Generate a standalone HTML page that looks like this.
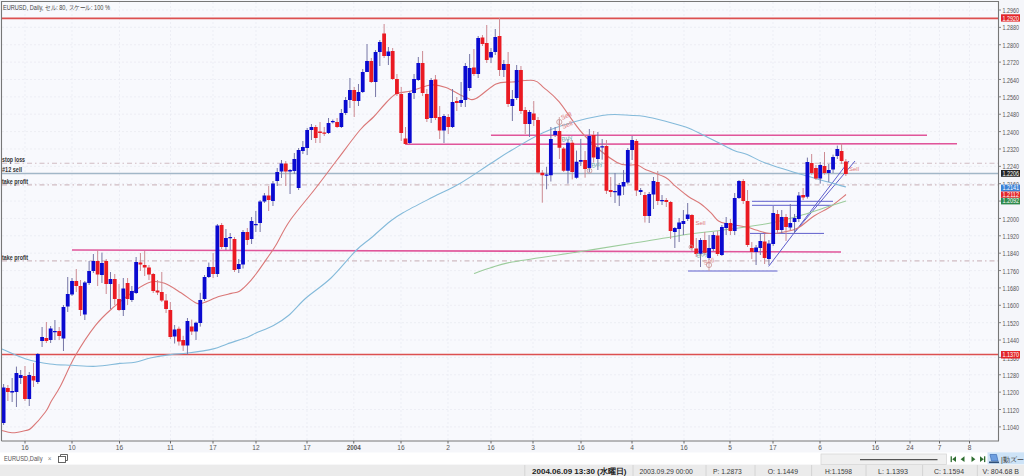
<!DOCTYPE html>
<html><head><meta charset="utf-8">
<style>
html,body{margin:0;padding:0;width:1024px;height:476px;overflow:hidden;background:#f5f6fa;}
svg{position:absolute;left:0;top:0;}
text{font-family:"Liberation Sans",sans-serif;}
</style></head><body>
<svg width="1024" height="476" viewBox="0 0 1024 476">
<rect x="0" y="0" width="1024" height="476" fill="#f5f6fa"/>
<rect x="1.5" y="1.5" width="997" height="439.5" fill="#f8f9fd"/>
<g stroke="#e8eaf0" stroke-width="0.7" stroke-dasharray="2 2"><line x1="2" y1="10" x2="998" y2="10"/><line x1="2" y1="27.37" x2="998" y2="27.37"/><line x1="2" y1="44.74" x2="998" y2="44.74"/><line x1="2" y1="62.11" x2="998" y2="62.11"/><line x1="2" y1="79.48" x2="998" y2="79.48"/><line x1="2" y1="96.85" x2="998" y2="96.85"/><line x1="2" y1="114.22" x2="998" y2="114.22"/><line x1="2" y1="131.59" x2="998" y2="131.59"/><line x1="2" y1="148.96" x2="998" y2="148.96"/><line x1="2" y1="166.33" x2="998" y2="166.33"/><line x1="2" y1="183.7" x2="998" y2="183.7"/><line x1="2" y1="201.07" x2="998" y2="201.07"/><line x1="2" y1="218.44" x2="998" y2="218.44"/><line x1="2" y1="235.81" x2="998" y2="235.81"/><line x1="2" y1="253.18" x2="998" y2="253.18"/><line x1="2" y1="270.55" x2="998" y2="270.55"/><line x1="2" y1="287.92" x2="998" y2="287.92"/><line x1="2" y1="305.29" x2="998" y2="305.29"/><line x1="2" y1="322.66" x2="998" y2="322.66"/><line x1="2" y1="340.03" x2="998" y2="340.03"/><line x1="2" y1="357.4" x2="998" y2="357.4"/><line x1="2" y1="374.77" x2="998" y2="374.77"/><line x1="2" y1="392.14" x2="998" y2="392.14"/><line x1="2" y1="409.51" x2="998" y2="409.51"/><line x1="2" y1="426.88" x2="998" y2="426.88"/><line x1="25" y1="2" x2="25" y2="441"/><line x1="72" y1="2" x2="72" y2="441"/><line x1="119.5" y1="2" x2="119.5" y2="441"/><line x1="170.5" y1="2" x2="170.5" y2="441"/><line x1="213" y1="2" x2="213" y2="441"/><line x1="256" y1="2" x2="256" y2="441"/><line x1="307" y1="2" x2="307" y2="441"/><line x1="353.75" y1="2" x2="353.75" y2="441"/><line x1="401" y1="2" x2="401" y2="441"/><line x1="448" y1="2" x2="448" y2="441"/><line x1="491" y1="2" x2="491" y2="441"/><line x1="533" y1="2" x2="533" y2="441"/><line x1="581" y1="2" x2="581" y2="441"/><line x1="632" y1="2" x2="632" y2="441"/><line x1="684" y1="2" x2="684" y2="441"/><line x1="730" y1="2" x2="730" y2="441"/><line x1="773" y1="2" x2="773" y2="441"/><line x1="820" y1="2" x2="820" y2="441"/><line x1="875.5" y1="2" x2="875.5" y2="441"/><line x1="910" y1="2" x2="910" y2="441"/><line x1="939.5" y1="2" x2="939.5" y2="441"/><line x1="969.5" y1="2" x2="969.5" y2="441"/></g>
<g fill="none">
<line x1="2" y1="18.4" x2="998" y2="18.4" stroke="#dc5050" stroke-width="1.6"/>
<line x1="2" y1="354.5" x2="998" y2="354.5" stroke="#dc5050" stroke-width="1.7"/>
<line x1="2" y1="163.2" x2="998" y2="163.2" stroke="#d0bcc2" stroke-width="1.1" stroke-dasharray="5 3 1.5 3"/>
<line x1="2" y1="184.9" x2="998" y2="184.9" stroke="#d0bcc2" stroke-width="1.1" stroke-dasharray="5 3 1.5 3"/>
<line x1="2" y1="260.9" x2="998" y2="260.9" stroke="#d0bcc2" stroke-width="1.1" stroke-dasharray="5 3 1.5 3"/>
<line x1="2" y1="173.6" x2="998" y2="173.6" stroke="#a2b7c8" stroke-width="1.5"/>
<line x1="491" y1="135.2" x2="927" y2="135.2" stroke="#e0559a" stroke-width="1.6"/>
<line x1="405.6" y1="144.3" x2="957" y2="143.7" stroke="#e0559a" stroke-width="1.6"/>
<line x1="72" y1="250" x2="841" y2="252" stroke="#e0559a" stroke-width="1.6"/>
<g stroke="#5e5ecc" stroke-width="1">
<line x1="752" y1="201.3" x2="833" y2="201.3"/>
<line x1="752" y1="205.3" x2="833" y2="205.3"/>
<line x1="750" y1="233.4" x2="824" y2="233.4"/>
<line x1="688" y1="271" x2="777.5" y2="271"/>
<line x1="768.6" y1="266.4" x2="849" y2="161"/>
<line x1="794" y1="233" x2="855" y2="161"/>
</g>
<path d="M2 430.5C3.67 430.88 8.05 432.8 12 432.8C15.95 432.8 22.4 431.38 25.7 430.5C29 429.62 28.52 430.58 31.8 427.5C35.08 424.42 42.13 416.42 45.4 412C48.67 407.58 48.88 405.33 51.4 401C53.92 396.67 56.5 393.57 60.5 386C64.5 378.43 69.57 365.7 75.4 355.6C81.23 345.5 89.23 333.38 95.5 325.4C101.77 317.42 106.42 313.52 113 307.7C119.58 301.88 128.72 294.78 135 290.5C141.28 286.22 145.77 283.2 150.7 282C155.63 280.8 159.55 281.5 164.6 283.3C169.65 285.1 175.77 289.52 181 292.8C186.23 296.08 192.33 301.3 196 303C199.67 304.7 199.2 304.07 203 303C206.8 301.93 214.07 298.2 218.8 296.6C223.53 295 228.03 294.25 231.4 293.4C234.77 292.55 236.48 292.87 239 291.5C241.52 290.13 243.67 288.12 246.5 285.2C249.33 282.28 252.42 278.7 256 274C259.58 269.3 264.67 261.83 268 257C271.33 252.17 272.33 251.08 276 245C279.67 238.92 283.5 229.83 290 220.5C296.5 211.17 307.17 199.08 315 189C322.83 178.92 329.5 169.83 337 160C344.5 150.17 353.92 137.17 360 130C366.08 122.83 369.33 121.33 373.5 117C377.67 112.67 381.25 107.83 385 104C388.75 100.17 391.67 96.17 396 94C400.33 91.83 405.17 92.5 411 91C416.83 89.5 425.17 85.58 431 85C436.83 84.42 440.17 85.42 446 87.5C451.83 89.58 461 95.67 466 97.5C471 99.33 471 100.75 476 98.5C481 96.25 490 86.75 496 84C502 81.25 505.7 82.58 512 82C518.3 81.42 528.47 79.53 533.8 80.5C539.13 81.47 539.8 84.27 544 87.8C548.2 91.33 552.33 93.83 559 101.7C565.67 109.57 574.33 124.87 584 135C593.67 145.13 608.17 157.5 617 162.5C625.83 167.5 632.27 163.83 637 165C641.73 166.17 640.63 167.4 645.4 169.5C650.17 171.6 660.55 174.78 665.6 177.6C670.65 180.42 671.92 183.25 675.7 186.4C679.48 189.55 684.1 193.57 688.3 196.5C692.5 199.43 697.12 201.27 700.9 204C704.68 206.73 708.07 210.07 711 212.9C713.93 215.73 715.67 219.15 718.5 221C721.33 222.85 723.25 223 728 224C732.75 225 742.33 226 747 227C751.67 228 752.17 228.92 756 230C759.83 231.08 765.33 233.17 770 233.5C774.67 233.83 779.33 232.92 784 232C788.67 231.08 793 230.67 798 228C803 225.33 808.67 219.5 814 216C819.33 212.5 824.67 210.58 830 207C835.33 203.42 843.33 196.58 846 194.5" stroke="#da7878" stroke-width="1.1"/>
<path d="M2 349C6 350.67 18 356.5 26 359C34 361.5 42.33 362.95 50 364C57.67 365.05 64.33 364.92 72 365.3C79.67 365.68 88 366.62 96 366.3C104 365.98 113.5 364.08 120 363.4C126.5 362.72 129.75 363.15 135 362.2C140.25 361.25 145.6 358.97 151.5 357.7C157.4 356.43 164.32 355.38 170.4 354.6C176.48 353.82 180.85 353.95 188 353C195.15 352.05 206.77 350.42 213.3 348.9C219.83 347.38 221.42 345.9 227.2 343.9C232.98 341.9 243.2 338.72 248 336.9C252.8 335.08 251.75 334.9 256 333C260.25 331.1 268.08 328.42 273.5 325.5C278.92 322.58 283.08 320.08 288.5 315.5C293.92 310.92 298.92 304.25 306 298C313.08 291.75 322.67 285.92 331 278C339.33 270.08 349.33 257.17 356 250.5C362.67 243.83 365.33 242.83 371 238C376.67 233.17 384.67 225.72 390 221.5C395.33 217.28 395.83 216.78 403 212.7C410.17 208.62 423.5 201.88 433 197C442.5 192.12 450.5 188.9 460 183.4C469.5 177.9 481.33 169.57 490 164C498.67 158.43 502.08 155.67 512 150C521.92 144.33 534.5 135.75 549.5 130C564.5 124.25 588.25 117.92 602 115.5C615.75 113.08 624.83 115.33 632 115.5C639.17 115.67 639.73 115.62 645 116.5C650.27 117.38 656.82 119.03 663.6 120.8C670.38 122.57 679.13 124.73 685.7 127.1C692.27 129.47 697.48 132.38 703 135C708.52 137.62 713.53 140.18 718.8 142.8C724.07 145.42 729.87 148.75 734.6 150.7C739.33 152.65 741.97 152.4 747.2 154.5C752.43 156.6 757.2 160.05 766 163.3C774.8 166.55 786.67 170.05 800 174C813.33 177.95 838.33 184.83 846 187" stroke="#84bada" stroke-width="1.1"/>
<path d="M474 273.5C476.67 272.58 483.67 269.92 490 268C496.33 266.08 497.92 264.58 512 262C526.08 259.42 553.67 255.75 574.5 252.5C595.33 249.25 617.75 245.58 637 242.5C656.25 239.42 676.17 236 690 234C703.83 232 707 232.25 720 230.5C733 228.75 754.33 226.08 768 223.5C781.67 220.92 791.67 217.92 802 215C812.33 212.08 822.67 208.33 830 206C837.33 203.67 843.33 201.83 846 201" stroke="#9ccc9c" stroke-width="1.1"/>
</g>
<g stroke-width="1">
<path d="M3.6 384V425M12.15 378V402M16.43 366.6V407M20.7 370V384M29.25 372V406M37.8 353V384M42.08 327V347M50.63 326V343M54.91 320V340M63.46 305V351M67.73 277V312M72.01 278V296M84.83 281V320M89.11 261V285M93.39 254V273M101.94 252.6V283M110.49 272V309M123.31 278V316M131.87 286V302M136.14 257V294M174.62 325V343.5M187.45 318V354.8M196 321.7V340M200.27 292.8V326.6M204.55 275V301M208.82 262.6V278M217.38 224V277M225.93 229V250M230.2 233V250M238.75 259V273M243.03 230V268.5M251.58 217V244M255.85 211V232M260.13 200V232M264.41 193V203M272.96 181V206M277.23 168V186M281.51 160V178M290.06 169V194M294.33 153V174M298.61 148V190M302.89 141V154M307.16 128V155M311.44 124V140M328.54 118V134M332.81 119.5V123.5M341.36 109V128M345.64 97V115M349.92 78V108M358.47 84V106M362.74 69V93M367.02 44V72M375.57 50V97M379.84 40V66M388.4 47V65M409.77 91V144M414.05 74V99M418.32 57V81M431.15 78V123M443.98 114V143M452.53 89V128M461.08 82V107M465.35 63V107M469.63 54V91M478.18 36V78M491.01 48V63M495.28 29V55M503.83 60V77M512.38 90V121M516.66 65V100M529.49 110V137M546.59 166.8V189.3M550.86 127V181.5M555.14 127V137M567.97 139V183.7M576.52 150.6V178.7M580.79 139V166M589.34 129V172.4M597.89 132V170M602.17 139V159.7M615 173V203M619.27 183V206M623.55 170V195M627.82 148V184M632.1 136V160M640.65 188V195M649.2 192V223M653.48 177V209M662.03 195V205M674.85 227V248M679.13 218V242M683.4 210V235M687.68 203V221M700.51 238V267M709.06 235V260M713.33 232V251M721.88 225V256M726.16 217V235M734.71 193V235M738.99 180V199M756.09 245V265M760.36 233V255M768.91 240V265M773.19 206V246M781.74 210V233M790.29 204V230M794.57 214V233M798.84 192V222M807.39 157.6V198.5M820.22 162V183.6M828.77 164V182M833.05 154.6V173M837.32 145.6V159" stroke="#7676a6"/>
<path d="M7.88 385V401M24.98 366V401M33.53 363V387M46.36 322V343M59.18 327V340M76.28 269V292M80.56 280V316M97.66 250V286M106.21 259V294M114.76 274V305M119.04 284V311M127.59 278V305M140.42 253V271M144.69 251V276M148.97 265V280M153.24 273V293M157.52 280V295M161.79 272V302M166.07 294V313M170.34 302V339M178.9 326.6V345.6M183.17 335.8V351M191.72 319.6V335M213.1 253V278M221.65 223V249M234.48 237V272M247.3 228V245M268.68 186V211M285.78 161V186M315.71 125V143M319.99 122V143M324.26 127V136M337.09 118V128M354.19 87V117M371.29 58V83M384.12 24V58M392.67 48V80M396.95 74V96M401.22 87V141M405.5 127V145M422.6 51V96M426.87 89V122M435.43 75V120M439.7 106V139M448.25 114V134M456.8 97V111M473.91 49V76M482.46 35V46M486.73 25V63M499.56 18V76M508.11 52V107M520.94 66V114M525.21 107V134M533.76 101V126M538.04 117V174M542.31 170V202.7M559.42 120V159M563.69 147V172M572.24 140V179.4M585.07 151V177.7M593.62 131V162.5M606.45 140V194M610.72 177V197M636.37 139V196M644.93 192V222.5M657.75 171V205M666.3 198V207M670.58 201V239M691.96 214V251M696.23 238V257M704.78 232V255M717.61 231V256M730.44 219V235M743.26 179V204M747.54 190V247M751.81 242V259M764.64 234V264M777.47 210V233M786.02 214V241M803.12 188V200M811.67 154V174.7M815.95 165V180M824.5 152V174.7M841.6 143.4V164M845.87 159V176" stroke="#cc8a92"/>
</g>
<path d="M1.7 387.4h3.8v35.6h-3.8zM10.25 391h3.8v1.5h-3.8zM14.53 373h3.8v19h-3.8zM18.8 375h3.8v3h-3.8zM27.35 375h3.8v24h-3.8zM35.9 354h3.8v28h-3.8zM40.18 337h3.8v4h-3.8zM48.73 328.5h3.8v11.5h-3.8zM53.01 331h3.8v1.2h-3.8zM61.56 307h3.8v31.5h-3.8zM65.83 294h3.8v12.5h-3.8zM70.11 281h3.8v13.5h-3.8zM82.93 282.5h3.8v32h-3.8zM87.21 271h3.8v12h-3.8zM91.49 261h3.8v10h-3.8zM100.04 263h3.8v12h-3.8zM108.59 279h3.8v5h-3.8zM121.41 288.5h3.8v21.5h-3.8zM129.97 291h3.8v9h-3.8zM134.24 262h3.8v31h-3.8zM172.72 329.4h3.8v7.1h-3.8zM185.55 321h3.8v24.6h-3.8zM194.1 322.7h3.8v8.8h-3.8zM198.37 299.9h3.8v23.1h-3.8zM202.65 277h3.8v22h-3.8zM206.92 267h3.8v10h-3.8zM215.47 225.5h3.8v48.5h-3.8zM224.03 238h3.8v9h-3.8zM228.3 237h3.8v1.2h-3.8zM236.85 264h3.8v5h-3.8zM241.13 232h3.8v32.6h-3.8zM249.68 221h3.8v18h-3.8zM253.95 224h3.8v1.2h-3.8zM258.23 201.5h3.8v21.5h-3.8zM262.51 195.5h3.8v6h-3.8zM271.06 183.5h3.8v17.5h-3.8zM275.33 172h3.8v9h-3.8zM279.61 163.6h3.8v8h-3.8zM288.16 170h3.8v1.6h-3.8zM292.43 159h3.8v12h-3.8zM296.71 150h3.8v38h-3.8zM300.99 147h3.8v4h-3.8zM305.26 130h3.8v18h-3.8zM309.54 127h3.8v3h-3.8zM326.64 123h3.8v10h-3.8zM330.91 121h3.8v1.2h-3.8zM339.46 113h3.8v14h-3.8zM343.74 100h3.8v13h-3.8zM348.02 90h3.8v10h-3.8zM356.57 92h3.8v9h-3.8zM360.84 72h3.8v20h-3.8zM365.12 61h3.8v11h-3.8zM373.67 52h3.8v30h-3.8zM377.94 42h3.8v10h-3.8zM386.5 51.5h3.8v4.5h-3.8zM407.87 93h3.8v50h-3.8zM412.15 79h3.8v14h-3.8zM416.42 63h3.8v17h-3.8zM429.25 80h3.8v38h-3.8zM442.08 116h3.8v14.5h-3.8zM450.63 102h3.8v25h-3.8zM459.18 100h3.8v3h-3.8zM463.45 66h3.8v34h-3.8zM467.73 68h3.8v20h-3.8zM476.28 38h3.8v36h-3.8zM489.11 52h3.8v5.5h-3.8zM493.38 37h3.8v15h-3.8zM501.93 64h3.8v6h-3.8zM510.48 99h3.8v7h-3.8zM514.76 70h3.8v28h-3.8zM527.59 112h3.8v12h-3.8zM544.69 174.5h3.8v1.2h-3.8zM548.96 139h3.8v36.2h-3.8zM553.24 131h3.8v4h-3.8zM566.07 142.8h3.8v27.9h-3.8zM574.62 161.8h3.8v15.9h-3.8zM578.89 160h3.8v1.8h-3.8zM587.44 136h3.8v32h-3.8zM595.99 147.3h3.8v11.7h-3.8zM600.27 146.3h3.8v1.2h-3.8zM613.1 191h3.8v1.2h-3.8zM617.37 185h3.8v10.6h-3.8zM621.65 182h3.8v4.6h-3.8zM625.92 150h3.8v32.6h-3.8zM630.2 140h3.8v10h-3.8zM638.75 190h3.8v2h-3.8zM647.3 194h3.8v22h-3.8zM651.58 181h3.8v13.6h-3.8zM660.13 200h3.8v1.2h-3.8zM672.95 228h3.8v4h-3.8zM677.23 222.5h3.8v6.5h-3.8zM681.5 221h3.8v3h-3.8zM685.78 214.5h3.8v4.5h-3.8zM698.61 240h3.8v14h-3.8zM707.16 248h3.8v10h-3.8zM711.43 235h3.8v14h-3.8zM719.98 227h3.8v28h-3.8zM724.26 223h3.8v5h-3.8zM732.81 198h3.8v33h-3.8zM737.09 181h3.8v17h-3.8zM754.19 247.5h3.8v4.5h-3.8zM758.46 241h3.8v7h-3.8zM767.01 243.5h3.8v15.5h-3.8zM771.29 213h3.8v31h-3.8zM779.84 217h3.8v13h-3.8zM788.39 223h3.8v4.4h-3.8zM792.67 218h3.8v4h-3.8zM796.94 195.6h3.8v23.4h-3.8zM805.49 162h3.8v34.8h-3.8zM818.32 165h3.8v13.4h-3.8zM826.87 170h3.8v3h-3.8zM831.15 157h3.8v12.5h-3.8zM835.42 149h3.8v7h-3.8z" fill="#0a0ad0"/>
<path d="M5.98 388h3.8v4h-3.8zM23.08 376h3.8v23h-3.8zM31.63 376h3.8v4.6h-3.8zM44.46 338h3.8v3h-3.8zM57.28 331h3.8v5h-3.8zM74.38 281h3.8v5h-3.8zM78.66 286h3.8v24h-3.8zM95.76 261h3.8v13.5h-3.8zM104.31 261h3.8v23h-3.8zM112.86 279h3.8v20h-3.8zM117.14 299h3.8v11h-3.8zM125.69 283h3.8v16h-3.8zM138.52 262.5h3.8v2.1h-3.8zM142.79 265h3.8v2.4h-3.8zM147.07 267.4h3.8v7.1h-3.8zM151.34 274h3.8v17h-3.8zM155.62 290.5h3.8v2h-3.8zM159.89 292h3.8v8.6h-3.8zM164.17 300.6h3.8v8.4h-3.8zM168.44 310h3.8v27h-3.8zM177 328.7h3.8v12.7h-3.8zM181.27 340h3.8v5.6h-3.8zM189.82 326.6h3.8v4.9h-3.8zM211.2 267h3.8v7h-3.8zM219.75 225h3.8v22h-3.8zM232.58 239h3.8v31h-3.8zM245.4 232h3.8v8h-3.8zM266.78 195.5h3.8v4.5h-3.8zM283.88 163.6h3.8v8h-3.8zM313.81 127h3.8v11h-3.8zM318.09 131.5h3.8v1.5h-3.8zM322.36 132.5h3.8v1.2h-3.8zM335.19 122h3.8v5h-3.8zM352.29 90h3.8v11h-3.8zM369.39 61h3.8v21h-3.8zM382.22 33.5h3.8v22.5h-3.8zM390.77 51h3.8v28h-3.8zM395.05 79h3.8v15h-3.8zM399.32 94h3.8v39h-3.8zM403.6 138.5h3.8v5.5h-3.8zM420.7 63h3.8v30h-3.8zM424.97 94h3.8v25h-3.8zM433.53 79.5h3.8v38.5h-3.8zM437.8 117h3.8v13.5h-3.8zM446.35 117h3.8v10h-3.8zM454.9 101h3.8v2h-3.8zM472.01 67.5h3.8v6.5h-3.8zM480.56 37.5h3.8v6.5h-3.8zM484.83 43h3.8v17h-3.8zM497.66 36h3.8v34h-3.8zM506.21 64h3.8v40h-3.8zM519.04 70h3.8v41h-3.8zM523.31 110h3.8v14h-3.8zM531.86 113.6h3.8v6.4h-3.8zM536.14 120h3.8v52.4h-3.8zM540.41 172.7h3.8v2.5h-3.8zM557.52 131h3.8v16.7h-3.8zM561.79 148.5h3.8v22.2h-3.8zM570.34 142.8h3.8v29.2h-3.8zM583.17 160h3.8v9h-3.8zM591.72 135h3.8v22.6h-3.8zM604.55 146h3.8v44.7h-3.8zM608.82 190h3.8v2h-3.8zM634.47 141h3.8v49.6h-3.8zM643.03 195h3.8v21h-3.8zM655.85 182h3.8v19h-3.8zM664.4 200h3.8v2h-3.8zM668.68 202h3.8v29h-3.8zM690.06 215h3.8v33h-3.8zM694.33 248.5h3.8v5.5h-3.8zM702.88 240h3.8v13h-3.8zM715.71 235.5h3.8v18.5h-3.8zM728.54 223h3.8v8h-3.8zM741.36 181h3.8v20h-3.8zM745.64 201h3.8v44h-3.8zM749.91 248h3.8v4h-3.8zM762.74 241.5h3.8v16.5h-3.8zM775.57 214h3.8v16h-3.8zM784.12 217h3.8v10h-3.8zM801.22 195h3.8v2.6h-3.8zM809.77 163h3.8v10h-3.8zM814.05 168h3.8v10.4h-3.8zM822.6 166h3.8v7h-3.8zM839.7 151h3.8v10h-3.8zM843.97 161.6h3.8v12.4h-3.8z" fill="#ea1a22"/>
<!-- frame -->
<path d="M1.5 441V1.5H998.5V441H1.5" fill="none" stroke="#777" stroke-width="1.1"/>
<g font-size="7.2" fill="#555"><line x1="998.5" y1="10" x2="1001" y2="10" stroke="#777" stroke-width="0.9"/><text x="1002.5" y="13.1" textLength="16.5" lengthAdjust="spacingAndGlyphs">1.2960</text><line x1="998.5" y1="27.37" x2="1001" y2="27.37" stroke="#777" stroke-width="0.9"/><text x="1002.5" y="30.47" textLength="16.5" lengthAdjust="spacingAndGlyphs">1.2880</text><line x1="998.5" y1="44.74" x2="1001" y2="44.74" stroke="#777" stroke-width="0.9"/><text x="1002.5" y="47.84" textLength="16.5" lengthAdjust="spacingAndGlyphs">1.2800</text><line x1="998.5" y1="62.11" x2="1001" y2="62.11" stroke="#777" stroke-width="0.9"/><text x="1002.5" y="65.21" textLength="16.5" lengthAdjust="spacingAndGlyphs">1.2720</text><line x1="998.5" y1="79.48" x2="1001" y2="79.48" stroke="#777" stroke-width="0.9"/><text x="1002.5" y="82.58" textLength="16.5" lengthAdjust="spacingAndGlyphs">1.2640</text><line x1="998.5" y1="96.85" x2="1001" y2="96.85" stroke="#777" stroke-width="0.9"/><text x="1002.5" y="99.95" textLength="16.5" lengthAdjust="spacingAndGlyphs">1.2560</text><line x1="998.5" y1="114.22" x2="1001" y2="114.22" stroke="#777" stroke-width="0.9"/><text x="1002.5" y="117.32" textLength="16.5" lengthAdjust="spacingAndGlyphs">1.2480</text><line x1="998.5" y1="131.59" x2="1001" y2="131.59" stroke="#777" stroke-width="0.9"/><text x="1002.5" y="134.69" textLength="16.5" lengthAdjust="spacingAndGlyphs">1.2400</text><line x1="998.5" y1="148.96" x2="1001" y2="148.96" stroke="#777" stroke-width="0.9"/><text x="1002.5" y="152.06" textLength="16.5" lengthAdjust="spacingAndGlyphs">1.2320</text><line x1="998.5" y1="166.33" x2="1001" y2="166.33" stroke="#777" stroke-width="0.9"/><text x="1002.5" y="169.43" textLength="16.5" lengthAdjust="spacingAndGlyphs">1.2240</text><line x1="998.5" y1="183.7" x2="1001" y2="183.7" stroke="#777" stroke-width="0.9"/><text x="1002.5" y="186.8" textLength="16.5" lengthAdjust="spacingAndGlyphs">1.2160</text><line x1="998.5" y1="201.07" x2="1001" y2="201.07" stroke="#777" stroke-width="0.9"/><text x="1002.5" y="204.17" textLength="16.5" lengthAdjust="spacingAndGlyphs">1.2080</text><line x1="998.5" y1="218.44" x2="1001" y2="218.44" stroke="#777" stroke-width="0.9"/><text x="1002.5" y="221.54" textLength="16.5" lengthAdjust="spacingAndGlyphs">1.2000</text><line x1="998.5" y1="235.81" x2="1001" y2="235.81" stroke="#777" stroke-width="0.9"/><text x="1002.5" y="238.91" textLength="16.5" lengthAdjust="spacingAndGlyphs">1.1920</text><line x1="998.5" y1="253.18" x2="1001" y2="253.18" stroke="#777" stroke-width="0.9"/><text x="1002.5" y="256.28" textLength="16.5" lengthAdjust="spacingAndGlyphs">1.1840</text><line x1="998.5" y1="270.55" x2="1001" y2="270.55" stroke="#777" stroke-width="0.9"/><text x="1002.5" y="273.65" textLength="16.5" lengthAdjust="spacingAndGlyphs">1.1760</text><line x1="998.5" y1="287.92" x2="1001" y2="287.92" stroke="#777" stroke-width="0.9"/><text x="1002.5" y="291.02" textLength="16.5" lengthAdjust="spacingAndGlyphs">1.1680</text><line x1="998.5" y1="305.29" x2="1001" y2="305.29" stroke="#777" stroke-width="0.9"/><text x="1002.5" y="308.39" textLength="16.5" lengthAdjust="spacingAndGlyphs">1.1600</text><line x1="998.5" y1="322.66" x2="1001" y2="322.66" stroke="#777" stroke-width="0.9"/><text x="1002.5" y="325.76" textLength="16.5" lengthAdjust="spacingAndGlyphs">1.1520</text><line x1="998.5" y1="340.03" x2="1001" y2="340.03" stroke="#777" stroke-width="0.9"/><text x="1002.5" y="343.13" textLength="16.5" lengthAdjust="spacingAndGlyphs">1.1440</text><line x1="998.5" y1="357.4" x2="1001" y2="357.4" stroke="#777" stroke-width="0.9"/><text x="1002.5" y="360.5" textLength="16.5" lengthAdjust="spacingAndGlyphs">1.1360</text><line x1="998.5" y1="374.77" x2="1001" y2="374.77" stroke="#777" stroke-width="0.9"/><text x="1002.5" y="377.87" textLength="16.5" lengthAdjust="spacingAndGlyphs">1.1280</text><line x1="998.5" y1="392.14" x2="1001" y2="392.14" stroke="#777" stroke-width="0.9"/><text x="1002.5" y="395.24" textLength="16.5" lengthAdjust="spacingAndGlyphs">1.1200</text><line x1="998.5" y1="409.51" x2="1001" y2="409.51" stroke="#777" stroke-width="0.9"/><text x="1002.5" y="412.61" textLength="16.5" lengthAdjust="spacingAndGlyphs">1.1120</text><line x1="998.5" y1="426.88" x2="1001" y2="426.88" stroke="#777" stroke-width="0.9"/><text x="1002.5" y="429.98" textLength="16.5" lengthAdjust="spacingAndGlyphs">1.1040</text></g>
<g font-size="6.6" fill="#555"><line x1="25" y1="441" x2="25" y2="443.5" stroke="#666" stroke-width="1"/><text x="25" y="450" text-anchor="middle">16</text><line x1="72" y1="441" x2="72" y2="443.5" stroke="#666" stroke-width="1"/><text x="72" y="450" text-anchor="middle">10</text><line x1="119.5" y1="441" x2="119.5" y2="443.5" stroke="#666" stroke-width="1"/><text x="119.5" y="450" text-anchor="middle">16</text><line x1="170.5" y1="441" x2="170.5" y2="443.5" stroke="#666" stroke-width="1"/><text x="170.5" y="450" text-anchor="middle">11</text><line x1="213" y1="441" x2="213" y2="443.5" stroke="#666" stroke-width="1"/><text x="213" y="450" text-anchor="middle">17</text><line x1="256" y1="441" x2="256" y2="443.5" stroke="#666" stroke-width="1"/><text x="256" y="450" text-anchor="middle">12</text><line x1="307" y1="441" x2="307" y2="443.5" stroke="#666" stroke-width="1"/><text x="307" y="450" text-anchor="middle">17</text><line x1="353.75" y1="441" x2="353.75" y2="443.5" stroke="#666" stroke-width="1"/><text x="353.75" y="450" text-anchor="middle" font-weight="bold" textLength="14" lengthAdjust="spacingAndGlyphs">2004</text><line x1="401" y1="441" x2="401" y2="443.5" stroke="#666" stroke-width="1"/><text x="401" y="450" text-anchor="middle">16</text><line x1="448" y1="441" x2="448" y2="443.5" stroke="#666" stroke-width="1"/><text x="448" y="450" text-anchor="middle">2</text><line x1="491" y1="441" x2="491" y2="443.5" stroke="#666" stroke-width="1"/><text x="491" y="450" text-anchor="middle">16</text><line x1="533" y1="441" x2="533" y2="443.5" stroke="#666" stroke-width="1"/><text x="533" y="450" text-anchor="middle">3</text><line x1="581" y1="441" x2="581" y2="443.5" stroke="#666" stroke-width="1"/><text x="581" y="450" text-anchor="middle">16</text><line x1="632" y1="441" x2="632" y2="443.5" stroke="#666" stroke-width="1"/><text x="632" y="450" text-anchor="middle">4</text><line x1="684" y1="441" x2="684" y2="443.5" stroke="#666" stroke-width="1"/><text x="684" y="450" text-anchor="middle">16</text><line x1="730" y1="441" x2="730" y2="443.5" stroke="#666" stroke-width="1"/><text x="730" y="450" text-anchor="middle">5</text><line x1="773" y1="441" x2="773" y2="443.5" stroke="#666" stroke-width="1"/><text x="773" y="450" text-anchor="middle">17</text><line x1="820" y1="441" x2="820" y2="443.5" stroke="#666" stroke-width="1"/><text x="820" y="450" text-anchor="middle">6</text><line x1="875.5" y1="441" x2="875.5" y2="443.5" stroke="#666" stroke-width="1"/><text x="875.5" y="450" text-anchor="middle">16</text><line x1="910" y1="441" x2="910" y2="443.5" stroke="#666" stroke-width="1"/><text x="910" y="450" text-anchor="middle">24</text><line x1="939.5" y1="441" x2="939.5" y2="443.5" stroke="#666" stroke-width="1"/><text x="939.5" y="450" text-anchor="middle">7</text><line x1="969.5" y1="441" x2="969.5" y2="443.5" stroke="#666" stroke-width="1"/><text x="969.5" y="450" text-anchor="middle">8</text></g>
<rect x="1001" y="14.3" width="19" height="7.3" fill="#e3262a"/><text x="1002.5" y="20.5" fill="#fff" font-size="8" textLength="16.5" lengthAdjust="spacingAndGlyphs">1.2920</text><rect x="1001" y="351" width="19" height="7.5" fill="#e3262a"/><text x="1002.5" y="357.4" fill="#fff" font-size="8" textLength="16.5" lengthAdjust="spacingAndGlyphs">1.1370</text><rect x="1001" y="170" width="19" height="6.8" fill="#262626"/><text x="1002.5" y="175.7" fill="#fff" font-size="8" textLength="16.5" lengthAdjust="spacingAndGlyphs">1.2206</text><rect x="1001" y="184.6" width="19" height="6.8" fill="#3b82d6"/><text x="1002.5" y="190.3" fill="#fff" font-size="8" textLength="16.5" lengthAdjust="spacingAndGlyphs">1.2141</text><rect x="1001" y="191.6" width="19" height="6.2" fill="#e3262a"/><text x="1002.5" y="196.7" fill="#fff" font-size="8" textLength="16.5" lengthAdjust="spacingAndGlyphs">1.2112</text><rect x="1001" y="197.9" width="19" height="6.5" fill="#2e8a4c"/><text x="1002.5" y="203.3" fill="#fff" font-size="8" textLength="16.5" lengthAdjust="spacingAndGlyphs">1.2092</text>
<text x="3" y="9.5" font-size="7" fill="#444" textLength="107" lengthAdjust="spacingAndGlyphs">EURUSD, Daily, セル: 80, スケール: 100 %</text>
<g font-size="7" fill="#333" font-weight="bold"><text x="2" y="161.5" textLength="23" lengthAdjust="spacingAndGlyphs">stop loss</text><text x="2" y="172" textLength="20" lengthAdjust="spacingAndGlyphs">#12 sell</text><text x="2" y="183.5" textLength="26" lengthAdjust="spacingAndGlyphs">take profit</text><text x="2" y="259.5" textLength="26" lengthAdjust="spacingAndGlyphs">take profit</text></g>
<g font-size="6.6" fill="#e07878"><text transform="translate(562,120) rotate(-22)">Sell</text><text transform="translate(563,129) rotate(-22)">Sell</text><text x="695.5" y="224.5" font-size="6">Sell</text><text x="849" y="171" font-size="6">Sell</text><text transform="translate(704,265) rotate(-15)" fill="#e09090">Sell</text></g><g font-size="6.6" fill="#6ea8a6"><text transform="translate(562,142) rotate(-15)">Buy</text><text transform="translate(592,168) rotate(-15)">Buy</text><text transform="translate(697,258) rotate(-15)">Buy</text></g><g fill="none" stroke="#c89090" stroke-width="0.8"><circle cx="559.3" cy="122" r="2.6"/><line x1="559.3" y1="117" x2="559.3" y2="127"/><circle cx="589.5" cy="170.8" r="2.4"/><circle cx="709" cy="265" r="2.6"/><line x1="709" y1="262" x2="709" y2="271"/><circle cx="691" cy="247" r="2"/></g>
<rect x="0" y="452.5" width="1024" height="12.2" fill="#ffffff"/>
<rect x="0" y="464.7" width="1024" height="11.3" fill="#ebebeb"/>
<text x="4" y="461.3" font-size="7.5" fill="#555" textLength="38.5" lengthAdjust="spacingAndGlyphs">EURUSD,Daily</text>
<text x="47.8" y="461" font-size="6.5" fill="#888">×</text>
<g fill="none" stroke="#555" stroke-width="0.9"><rect x="58.5" y="456.5" width="7" height="6"/><path d="M60.5 456.5V454.5H67.5V460.5H65.5"/></g>
<rect x="821" y="454" width="125.5" height="10.5" fill="#f0f0f0" stroke="#d6d6d6" stroke-width="0.8"/>
<line x1="860" y1="459.6" x2="937.5" y2="459.6" stroke="#555" stroke-width="1.4"/>
<g fill="#2f6e30">
<rect x="950.6" y="456.3" width="1.3" height="5.8"/><path d="M956 456.3V462.1L952.2 459.2Z"/>
<path d="M964.5 456.3V462.1L960.6 459.2Z"/>
<path d="M971.5 456.3V462.1L975.4 459.2Z"/>
<path d="M980 456.3V462.1L983.8 459.2Z"/><rect x="984" y="456.3" width="1.3" height="5.8"/>
</g>
<rect x="987.5" y="452.3" width="36.5" height="12" fill="#cde3f7"/>
<g><path d="M990 454.5H996.5L998 461H991.5Z" fill="#6d9ee0" stroke="#3f6fb5" stroke-width="0.7"/><rect x="989" y="461.5" width="10" height="1.6" fill="#30507a"/></g>
<text x="1001" y="461.5" font-size="7" fill="#333">|動ズーム</text>
<g stroke="#d4d4d4" stroke-width="1">
<line x1="524.8" y1="465" x2="524.8" y2="476"/><line x1="633" y1="465" x2="633" y2="476"/><line x1="706" y1="465" x2="706" y2="476"/>
<line x1="755" y1="465" x2="755" y2="476"/><line x1="811.6" y1="465" x2="811.6" y2="476"/><line x1="866" y1="465" x2="866" y2="476"/>
<line x1="922.6" y1="465" x2="922.6" y2="476"/><line x1="977.3" y1="465" x2="977.3" y2="476"/>
</g>
<g font-size="8" fill="#3a3a3a" lengthAdjust="spacingAndGlyphs">
<text x="532" y="474.2" font-weight="bold" fill="#222" textLength="94.5" lengthAdjust="spacingAndGlyphs">2004.06.09 13:30 (水曜日)</text>
<text x="639.4" y="474.2" textLength="53.5" lengthAdjust="spacingAndGlyphs">2003.09.29 00:00</text>
<text x="713" y="474.2" textLength="28.7" lengthAdjust="spacingAndGlyphs">P: 1.2873</text>
<text x="767.7" y="474.2" textLength="30.3" lengthAdjust="spacingAndGlyphs">O: 1.1449</text>
<text x="825" y="474.2" textLength="27" lengthAdjust="spacingAndGlyphs">H:1.1598</text>
<text x="878" y="474.2" textLength="30" lengthAdjust="spacingAndGlyphs">L: 1.1393</text>
<text x="934" y="474.2" textLength="30" lengthAdjust="spacingAndGlyphs">C: 1.1594</text>
<text x="982.5" y="474.2" textLength="36.5" lengthAdjust="spacingAndGlyphs">V: 804.68 B</text>
</g>
</svg>
</body></html>
